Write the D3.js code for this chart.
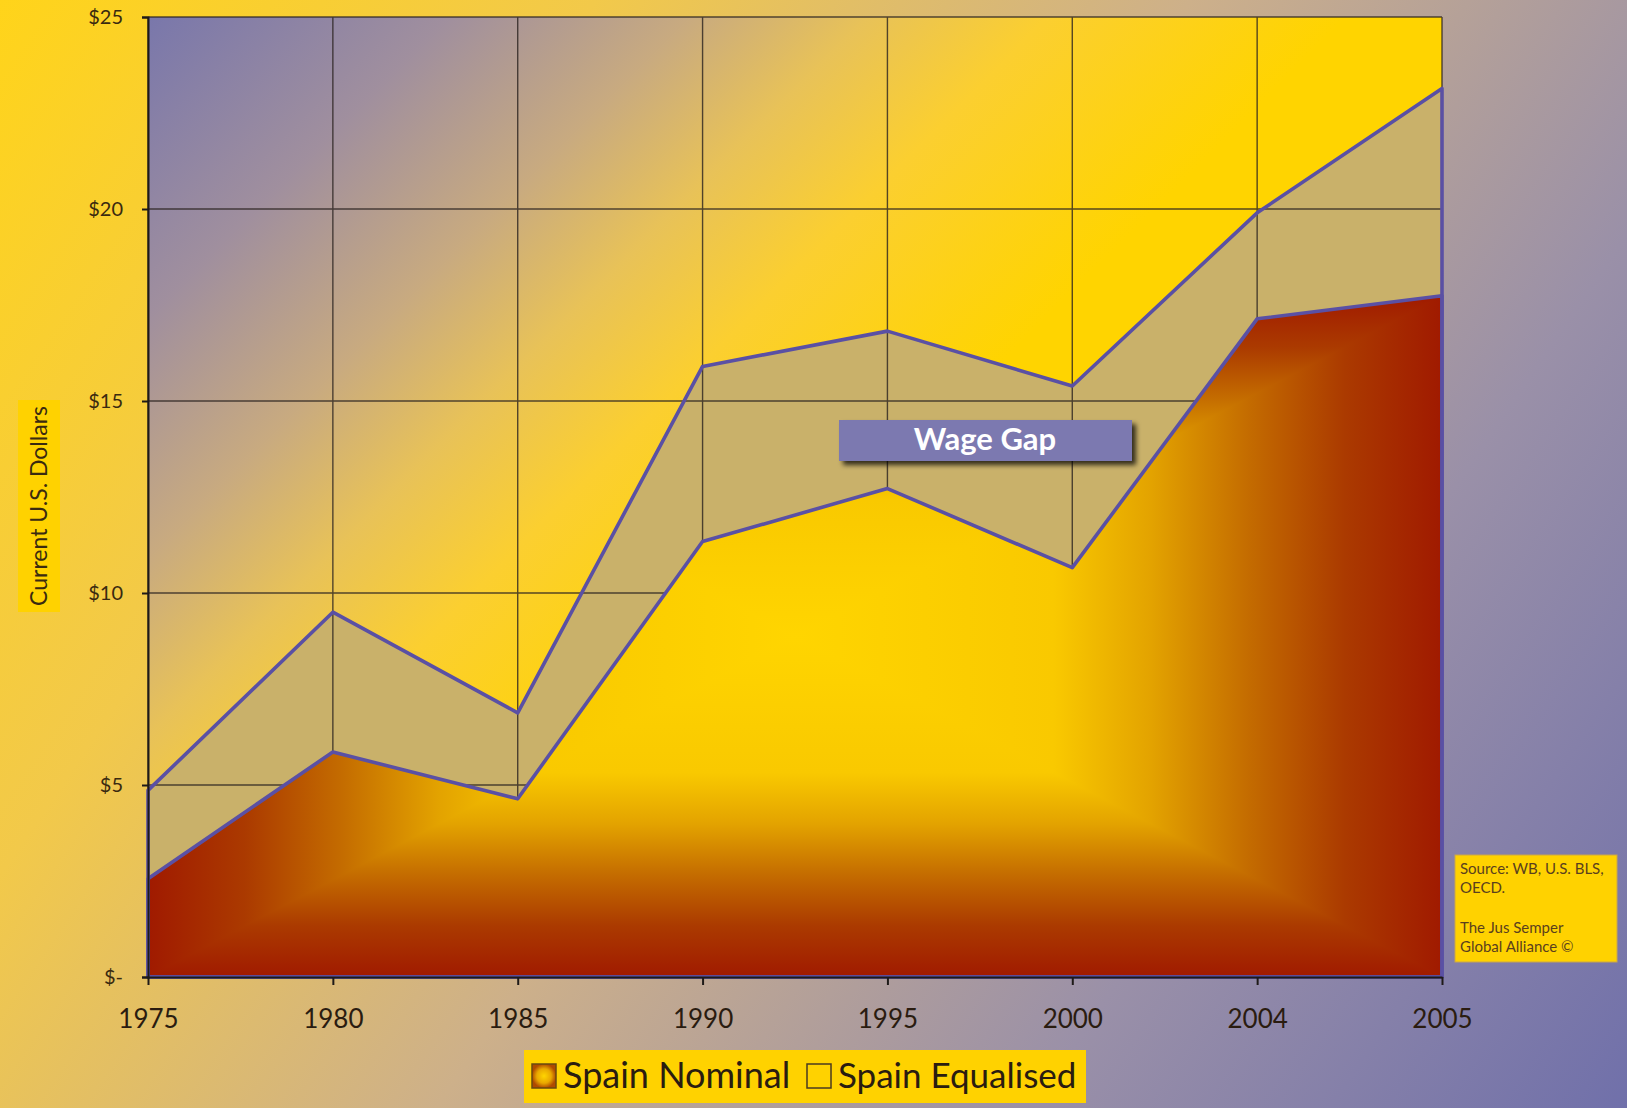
<!DOCTYPE html>
<html>
<head>
<meta charset="utf-8">
<script src="https://cdn.jsdelivr.net/npm/d3@7"></script>
<style>
  html, body { margin: 0; padding: 0; overflow: hidden; }
  svg { display: block; }
  text { font-family: Lato, "Open Sans", sans-serif; }
</style>
</head>
<body>
<svg id="chart" width="1627" height="1108"></svg>
<script>
// Hourly compensation, current U.S. dollars
const years = ["1975", "1980", "1985", "1990", "1995", "2000", "2004", "2005"];
const nominal = [2.56, 5.86, 4.64, 11.34, 12.72, 10.66, 17.14, 17.74];
const equalised = [4.86, 9.50, 6.88, 15.90, 16.82, 15.39, 19.90, 23.14];
const yTicks = [0, 5, 10, 15, 20, 25];
const yTickLabels = ["$-", "$5", "$10", "$15", "$20", "$25"];
const seriesNames = ["Spain Nominal", "Spain Equalised"];

const W = 1627, H = 1108;
const plot = { left: 148, right: 1442, top: 17, bottom: 977 };

const svg = d3.select("#chart");
const defs = svg.append("defs");

const x = d3.scalePoint().domain(years).range([plot.left, plot.right]);
const y = d3.scaleLinear().domain([0, 25]).range([plot.bottom, plot.top]);

function linGrad(id, x1, y1, x2, y2, stops, units) {
  const g = defs.append("linearGradient").attr("id", id)
    .attr("x1", x1).attr("y1", y1).attr("x2", x2).attr("y2", y2)
    .attr("gradientUnits", units || "userSpaceOnUse");
  stops.forEach(s => g.append("stop").attr("offset", s[0]).attr("stop-color", s[1]));
  return "url(#" + id + ")";
}

// page background: warm yellow top-left fading to lavender bottom-right
svg.append("rect").attr("width", W).attr("height", H)
  .attr("fill", linGrad("pageBg", 0, 0, W, H, [
    [0, "#ffd41a"], [0.25, "#f2c94a"], [0.5, "#cdb08a"], [0.75, "#9a90a8"], [1, "#7070aa"]
  ]));

// plot background
svg.append("rect")
  .attr("x", plot.left).attr("y", plot.top)
  .attr("width", plot.right - plot.left).attr("height", plot.bottom - plot.top)
  .attr("fill", linGrad("plotBg", plot.left, plot.top, plot.left + 600, plot.top + 600, [
    [0, "#7977ab"], [0.25, "#a08f9e"], [0.45, "#c8aa80"], [0.6, "#e8c258"], [0.75, "#fbcf30"], [1, "#ffd400"]
  ]));

const lineColor = "#5a50a4";

// equalised area (drawn first, sits behind nominal)
const areaGen = d3.area()
  .x((d, i) => x(years[i]))
  .y0(y(0))
  .y1(d => y(d));

svg.append("path").datum(equalised)
  .attr("d", areaGen)
  .attr("fill", "#c9b16a");

// gridlines
const grid = svg.append("g").attr("stroke", "#2b2320").attr("stroke-width", 1.4).attr("opacity", 0.8);
yTicks.forEach(t => {
  grid.append("line").attr("x1", plot.left).attr("x2", plot.right)
    .attr("y1", y(t)).attr("y2", y(t));
});
years.forEach(yr => {
  grid.append("line").attr("x1", x(yr)).attr("x2", x(yr))
    .attr("y1", plot.top).attr("y2", plot.bottom);
});

// nominal area with rectangular centre-out gradient
const nomTop = y(d3.max(nominal)), nomBot = y(0);
const cx = (plot.left + plot.right) / 2, cy = (nomTop + nomBot) / 2;
// colour by distance from centre (0) to edge (1)
const nomStops = [
  [0, "#ffd500"], [0.4, "#f9c900"], [0.55, "#e3a300"], [0.7, "#c46c00"], [0.85, "#ab3a00"], [1, "#a01a00"]
];
const edgeToCentre = nomStops.map(s => [1 - s[0], s[1]]).reverse();

defs.append("clipPath").attr("id", "nomClip")
  .append("path").datum(nominal).attr("d", areaGen);

const nomG = svg.append("g").attr("clip-path", "url(#nomClip)");
const quads = [
  { id: "gL", pts: [[plot.left, nomTop], [cx, cy], [plot.left, nomBot]], g: [plot.left, cy, cx, cy] },
  { id: "gR", pts: [[plot.right, nomTop], [cx, cy], [plot.right, nomBot]], g: [plot.right, cy, cx, cy] },
  { id: "gT", pts: [[plot.left, nomTop], [cx, cy], [plot.right, nomTop]], g: [cx, nomTop, cx, cy] },
  { id: "gB", pts: [[plot.left, nomBot], [cx, cy], [plot.right, nomBot]], g: [cx, nomBot, cx, cy] }
];
quads.forEach(q => {
  nomG.append("polygon")
    .attr("points", q.pts.map(p => p.join(",")).join(" "))
    .attr("fill", linGrad(q.id, q.g[0], q.g[1], q.g[2], q.g[3], edgeToCentre))
    .attr("shape-rendering", "crispEdges")
    .attr("stroke", "none");
});

// series outlines
svg.append("path").datum(equalised)
  .attr("d", areaGen).attr("fill", "none")
  .attr("stroke", lineColor).attr("stroke-width", 3.6).attr("stroke-linejoin", "round");
svg.append("path").datum(nominal)
  .attr("d", areaGen).attr("fill", "none")
  .attr("stroke", lineColor).attr("stroke-width", 3.6).attr("stroke-linejoin", "round");

// axes
const yAxis = d3.axisLeft(y).tickValues(yTicks).tickSize(6)
  .tickFormat((d, i) => yTickLabels[i]);
const yg = svg.append("g").attr("transform", `translate(${plot.left},0)`).call(yAxis);
yg.select(".domain").attr("stroke", "#1e1a18").attr("stroke-width", 2);
yg.selectAll(".tick line").attr("stroke", "#1e1a18").attr("stroke-width", 2);
yg.selectAll(".tick text").attr("font-size", 20).attr("fill", "#3a2a10")
  .attr("font-family", "Lato, sans-serif").attr("x", -25);

const xAxis = d3.axisBottom(x).tickSize(8).tickSizeOuter(0);
const xg = svg.append("g").attr("transform", `translate(0,${plot.bottom})`).call(xAxis);
xg.select(".domain").attr("stroke", "#1e1a18").attr("stroke-width", 2);
xg.selectAll(".tick line").attr("stroke", "#1e1a18").attr("stroke-width", 2);
xg.selectAll(".tick text").attr("font-size", 26).attr("fill", "#2a1c10")
  .attr("font-family", "Lato, sans-serif").attr("dy", 0).attr("y", 51);

// y-axis title
const yTitle = svg.append("g").attr("transform", "translate(39,506) rotate(-90)");
yTitle.append("rect").attr("x", -106).attr("y", -21).attr("width", 212).attr("height", 42).attr("fill", "#ffd200");
yTitle.append("text").attr("text-anchor", "middle").attr("y", 8)
  .attr("font-size", 23).attr("fill", "#3a2a10").text("Current U.S. Dollars");

// wage gap callout
defs.append("filter").attr("id", "shadow").attr("x", "-10%").attr("y", "-30%").attr("width", "130%").attr("height", "180%")
  .append("feDropShadow").attr("dx", 4).attr("dy", 4).attr("stdDeviation", 2.5)
  .attr("flood-color", "#000").attr("flood-opacity", 0.75);
svg.append("rect").attr("x", 839).attr("y", 420).attr("width", 293).attr("height", 41)
  .attr("fill", "#7c79b0").attr("filter", "url(#shadow)");
svg.append("text").attr("x", 985).attr("y", 450).attr("text-anchor", "middle")
  .attr("font-size", 31).attr("font-weight", "bold").attr("fill", "#ffffff").text("Wage Gap");

// source note
svg.append("rect").attr("x", 1455).attr("y", 855).attr("width", 162).attr("height", 107)
  .attr("fill", "#ffd200").attr("stroke", "#c9a64a").attr("stroke-width", 1);
const srcLines = [["Source: WB, U.S. BLS,", 870], ["OECD.", 889], ["The Jus Semper", 929], ["Global Alliance ©", 948]];
srcLines.forEach(l => {
  svg.append("text").attr("x", 1460).attr("y", l[1] + 4)
    .attr("font-size", 15).attr("fill", "#5a3f1e").text(l[0]);
});

// legend
const leg = svg.append("g");
leg.append("rect").attr("x", 524).attr("y", 1050).attr("width", 562).attr("height", 53).attr("fill", "#ffd200");
const swGrad = defs.append("radialGradient").attr("id", "swatchGrad");
[[0, "#ffd500"], [0.6, "#e9a800"], [1, "#b04a00"]].forEach(s =>
  swGrad.append("stop").attr("offset", s[0]).attr("stop-color", s[1]));
leg.append("rect").attr("x", 532).attr("y", 1064).attr("width", 24).attr("height", 24)
  .attr("fill", "url(#swatchGrad)").attr("stroke", "#6a4a10").attr("stroke-width", 1.5);
leg.append("text").attr("x", 563).attr("y", 1088).attr("font-size", 36).attr("fill", "#2a1c10").text(seriesNames[0]);
leg.append("rect").attr("x", 807).attr("y", 1064).attr("width", 24).attr("height", 24)
  .attr("fill", "none").attr("stroke", "#4a3a20").attr("stroke-width", 1.5);
leg.append("text").attr("x", 838).attr("y", 1088).attr("font-size", 35).attr("fill", "#2a1c10").text(seriesNames[1]);
</script>
</body>
</html>
